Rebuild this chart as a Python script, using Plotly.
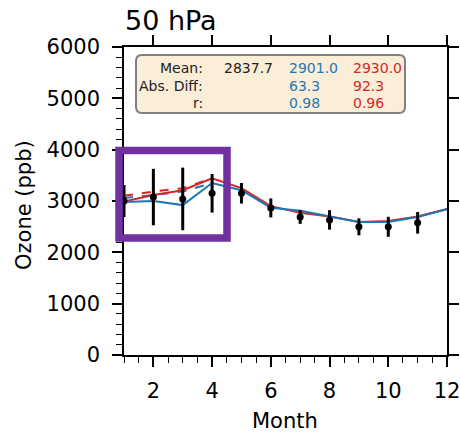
import plotly.graph_objects as go

months = list(range(1, 13))
obs_months = list(range(1, 12))
obs_mean = [3000, 3077, 3040, 3150, 3150, 2865, 2690, 2632, 2497, 2497, 2575]
obs_err = [310, 550, 610, 375, 200, 185, 135, 190, 165, 195, 210]
blue_solid = [2980, 3000, 2920, 3350, 3210, 2870, 2810, 2700, 2590, 2590, 2690, 2840]
red_solid = [2990, 3115, 3210, 3440, 3250, 2900, 2770, 2700, 2590, 2610, 2700, 2845]
dash_months = [1, 2, 3, 4]
blue_dash = [3060, 3115, 3185, 3350]
red_dash = [3100, 3185, 3250, 3440]
stat_labels = ["Mean:", "Abs. Diff:", "r:"]
stat_obs = ["2837.7", "", ""]
stat_blue = ["2901.0", "63.3", "0.98"]
stat_red = ["2930.0", "92.3", "0.96"]

BLUE = "#1f77b4"
RED = "#d62728"
FONT = "DejaVu Sans"

W, H = 460, 435
L, R, T, B = 124, 13, 47, 80
PW, PH = W - L - R, H - T - B


def px(x):
    return (x - L) / PW


def py(y):
    return (H - B - y) / PH


fig = go.Figure()
fig.add_trace(go.Scatter(x=dash_months, y=blue_dash, mode="lines",
                         line=dict(color=BLUE, width=2, dash="dash"), showlegend=False))
fig.add_trace(go.Scatter(x=dash_months, y=red_dash, mode="lines",
                         line=dict(color=RED, width=2, dash="dash"), showlegend=False))
fig.add_trace(go.Scatter(x=months, y=red_solid, mode="lines",
                         line=dict(color=RED, width=2), showlegend=False))
fig.add_trace(go.Scatter(x=months, y=blue_solid, mode="lines",
                         line=dict(color=BLUE, width=2), showlegend=False))
fig.add_trace(go.Scatter(x=obs_months, y=obs_mean, mode="markers",
                         marker=dict(color="black", size=7),
                         error_y=dict(type="data", array=obs_err, color="black",
                                      thickness=3, width=0),
                         showlegend=False))

# invisible trace for mirrored top/right axes
fig.add_trace(go.Scatter(x=[1], y=[0], xaxis="x2", yaxis="y2", mode="markers",
                         marker=dict(opacity=0), showlegend=False, hoverinfo="skip"))

axis_common = dict(showline=True, linecolor="black", linewidth=1.5,
                   ticks="outside", tickcolor="black", tickwidth=1.5, ticklen=10,
                   showgrid=False, zeroline=False, automargin=False,
                   ticklabeloverflow="allow",
                   tickfont=dict(family=FONT, size=21, color="black"))
mirror_common = dict(showline=True, linecolor="black", linewidth=1.5,
                     ticks="outside", tickcolor="black", tickwidth=1.5, ticklen=10,
                     showticklabels=False, showgrid=False, zeroline=False, automargin=False)

fig.update_layout(
    width=W, height=H,
    margin=dict(l=L, r=R, t=T, b=B, autoexpand=False),
    plot_bgcolor="white", paper_bgcolor="white",
    font=dict(family=FONT, color="black"),
    xaxis=dict(range=[1, 12], tick0=0, dtick=2, ticklabelstandoff=6,
               minor=dict(dtick=0.5, ticklen=6, tickcolor="black", tickwidth=1.2, ticks="outside"),
               **axis_common),
    yaxis=dict(range=[0, 6000], tick0=0, dtick=1000, ticklabelstandoff=8,
               minor=dict(dtick=200, ticklen=6, tickcolor="black", tickwidth=1.2, ticks="outside"),
               **axis_common),
    xaxis2=dict(range=[1, 12], tick0=0, dtick=2, overlaying="x", side="top", **mirror_common),
    yaxis2=dict(range=[0, 6000], tick0=0, dtick=1000, overlaying="y", side="right", **mirror_common),
)


def rounded_rect(x0, y0, x1, y1, r):
    pts = [
        (x0 + r, y0), (x1 - r, y0), "Q", (x1, y0), (x1, y0 + r),
        (x1, y1 - r), "Q", (x1, y1), (x1 - r, y1),
        (x0 + r, y1), "Q", (x0, y1), (x0, y1 - r),
        (x0, y0 + r), "Q", (x0, y0), (x0 + r, y0),
    ]
    path = f"M {px(x0 + r)},{py(y0)}"
    i = 1
    while i < len(pts):
        p = pts[i]
        if p == "Q":
            c, e = pts[i + 1], pts[i + 2]
            path += f" Q {px(c[0])},{py(c[1])} {px(e[0])},{py(e[1])}"
            i += 3
        else:
            path += f" L {px(p[0])},{py(p[1])}"
            i += 1
    return path + " Z"


fig.add_shape(type="path", xref="paper", yref="paper",
              path=rounded_rect(136, 55, 405, 113, 6),
              fillcolor="#faeed9", line=dict(color="#808080", width=2), layer="above")

# purple highlight box
fig.add_shape(type="rect", xref="paper", yref="paper",
              x0=px(119), x1=px(227), y0=py(238), y1=py(150.5),
              line=dict(color="#7030A0", width=7.5), fillcolor="rgba(0,0,0,0)", layer="above")

row_y = [68, 85.5, 103]
for i in range(3):
    fig.add_annotation(x=px(205), y=py(row_y[i]), xref="paper", yref="paper",
                       text=stat_labels[i], showarrow=False, xanchor="right", yanchor="middle",
                       font=dict(family=FONT, size=14, color="#222222"))
    if stat_obs[i]:
        fig.add_annotation(x=px(222), y=py(row_y[i]), xref="paper", yref="paper",
                           text=stat_obs[i], showarrow=False, xanchor="left", yanchor="middle",
                           font=dict(family=FONT, size=14, color="#222222"))
    fig.add_annotation(x=px(287), y=py(row_y[i]), xref="paper", yref="paper",
                       text=stat_blue[i], showarrow=False, xanchor="left", yanchor="middle",
                       font=dict(family=FONT, size=14, color=BLUE))
    fig.add_annotation(x=px(351), y=py(row_y[i]), xref="paper", yref="paper",
                       text=stat_red[i], showarrow=False, xanchor="left", yanchor="middle",
                       font=dict(family=FONT, size=14, color=RED))

fig.add_annotation(x=px(123), y=py(20), xref="paper", yref="paper", text="50 hPa",
                   showarrow=False, xanchor="left", yanchor="middle",
                   font=dict(family=FONT, size=27, color="black"))
fig.add_annotation(x=px(285), y=py(421), xref="paper", yref="paper", text="Month",
                   showarrow=False, xanchor="center", yanchor="middle",
                   font=dict(family=FONT, size=21, color="black"))
fig.add_annotation(x=px(24), y=py(205), xref="paper", yref="paper", text="Ozone (ppb)",
                   showarrow=False, xanchor="center", yanchor="middle", textangle=-90,
                   font=dict(family=FONT, size=21, color="black"))

fig.write_html("out.html", config={"displayModeBar": False},
               post_script="document.body.style.margin='0';")
